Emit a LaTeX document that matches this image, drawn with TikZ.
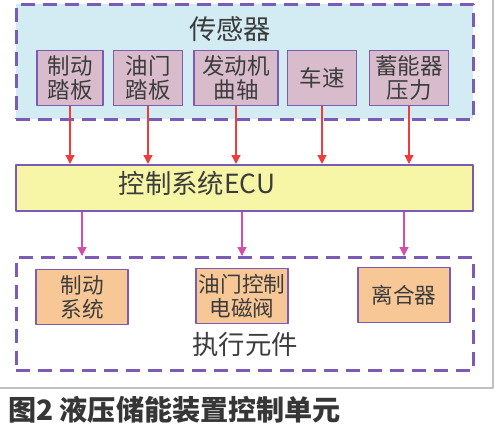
\documentclass[tikz,border=0pt]{standalone}
\usepackage{fontspec}
\newfontfamily\cjk{Noto Sans CJK SC}
\usepackage{tikz}
\usetikzlibrary{arrows.meta,positioning}

\definecolor{roxo}{HTML}{7B5BB5}
\definecolor{azulclaro}{HTML}{D3ECF3}
\definecolor{malva}{HTML}{D9BCCB}
\definecolor{amarelo}{HTML}{F6F6A6}
\definecolor{laranja}{HTML}{F8C796}
\definecolor{vermelho}{HTML}{F03C3C}
\definecolor{magenta}{HTML}{D24FAA}
\definecolor{texto}{HTML}{3C3C3C}

\tikzset{
  grupo/.style={draw=roxo,line width=1.5pt,dash pattern=on 8pt off 4.5pt,inner sep=0pt},
  sensor/.style={draw=roxo,line width=1.1pt,fill=malva,inner sep=0pt,align=center,
    font=\cjk\fontsize{12.8}{13.6}\selectfont,text=texto,minimum height=1.1cm},
  atuador/.style={draw=roxo,line width=1.1pt,fill=laranja,inner sep=0pt,align=center,
    font=\cjk\fontsize{12.3}{13.6}\selectfont,text=texto,minimum height=1.1cm,minimum width=1.84cm},
  setavermelha/.style={draw=vermelho,line width=0.7pt,-{Triangle[length=5pt,width=5pt]}},
  setamagenta/.style={draw=magenta,line width=0.7pt,-{Triangle[length=5pt,width=5pt]}},
}

\begin{document}
\begin{tikzpicture}[x=0.02cm,y=-0.02cm,line join=round]

\useasboundingbox (0,0) rectangle (500,433);

%---------------------------
% moldura da figura
%---------------------------
\draw[black!25,line width=0.6pt] (493,0) -- (493,388) -- (0,388);

%---------------------------
% sensores
%---------------------------
\node[grupo,fill=azulclaro,minimum width=9.14cm,minimum height=2.3cm,anchor=north west]
  (sensores) at (15,3) {};
\node[font=\cjk\fontsize{15.5}{16}\selectfont,text=texto] (tsens) at (230,29) {传感器};

\node[sensor,minimum width=1.32cm] (s1) at (70,78)  {制动\\踏板};
\node[sensor,minimum width=1.38cm] (s2) at (148,78) {油门\\踏板};
\node[sensor,minimum width=1.68cm] (s3) at (236,78) {发动机\\曲轴};
\node[sensor,minimum width=1.38cm] (s4) at (322,78) {车速};
\node[sensor,minimum width=1.58cm] (s5) at (409,78) {蓄能器\\压力};

%---------------------------
% ECU
%---------------------------
\node[draw=roxo,line width=1.1pt,fill=amarelo,minimum width=9.14cm,minimum height=0.92cm,
  anchor=north west,inner sep=0pt] (ecu) at (15,164) {};
\node[font=\cjk\fontsize{15}{16}\selectfont,text=texto] (tecu) at (197,183) {控制系统ECU};

\foreach \s in {s1,s2,s3,s4,s5}
  \draw[setavermelha] (\s.south) -- (\s.south |- ecu.north);

%---------------------------
% elementos de atuação
%---------------------------
\node[grupo,fill=white,minimum width=9.14cm,minimum height=2.26cm,anchor=north west]
  (atuadores) at (15,256) {};

\node[atuador] (a1) at (82,297)  {制动\\系统};
\node[atuador] (a2) at (242,296) {油门控制\\电磁阀};
\node[atuador] (a3) at (404,295) {离合器};
\node[font=\cjk\fontsize{15}{16}\selectfont,text=texto] (tatu) at (245,345) {执行元件};

\foreach \a in {a1,a2,a3}
  \draw[setamagenta] (\a |- ecu.south) -- (\a |- atuadores.north);

%---------------------------
% legenda
%---------------------------
\node[font=\cjk\bfseries\fontsize{16}{18}\selectfont,text=texto!90!black,anchor=west]
  (legenda) at (2,410) {图2\ 液压储能装置控制单元};

\end{tikzpicture}
\end{document}
